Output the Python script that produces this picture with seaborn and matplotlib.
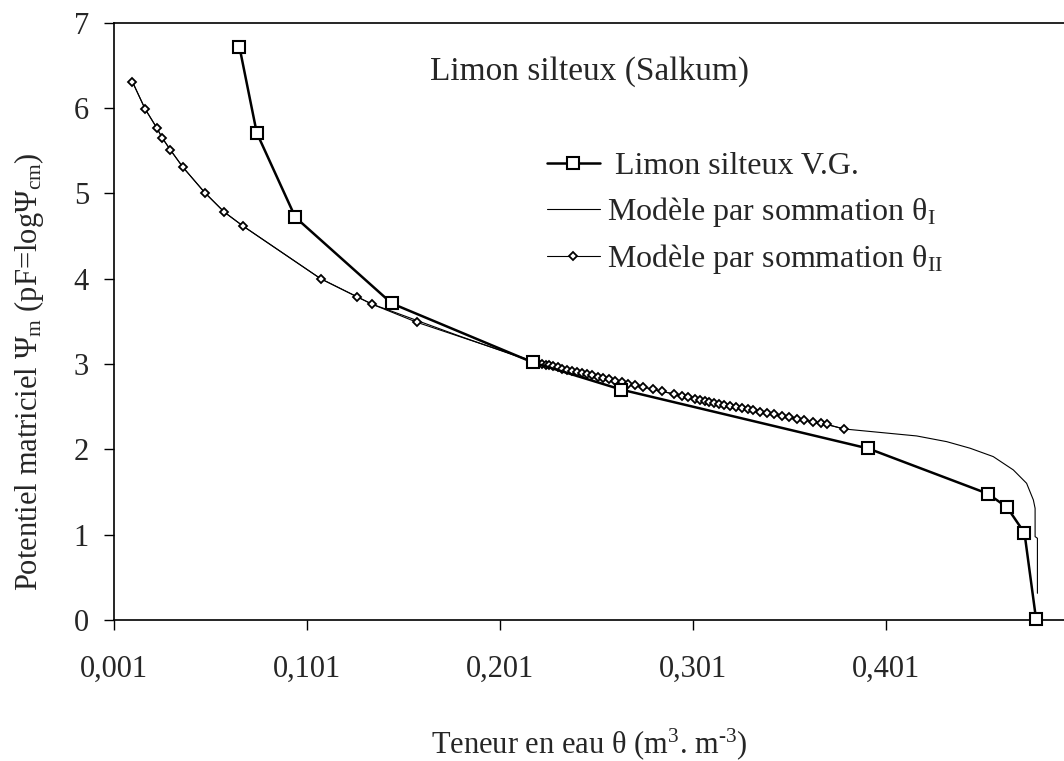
import matplotlib
matplotlib.use("Agg")
import matplotlib.pyplot as plt
import seaborn as sns
import pandas as pd

# ---------------- data ----------------
vg_theta = [0.066, 0.075, 0.095, 0.145, 0.218, 0.264, 0.392, 0.454, 0.464, 0.473, 0.479]
vg_pf = [6.72, 5.71, 4.72, 3.71, 3.02, 2.70, 2.01, 1.48, 1.32, 1.02, 0.01]

t2_theta = [0.0105, 0.0171, 0.0231, 0.0260, 0.0302, 0.0366, 0.0480, 0.0582, 0.0677,
            0.1081, 0.1268, 0.1349, 0.1579,
            0.2210, 0.2230, 0.2248, 0.2265, 0.2287, 0.2310, 0.2334, 0.2357, 0.2383,
            0.2409, 0.2435, 0.2464, 0.2490, 0.2518, 0.2547, 0.2578, 0.2607, 0.2642,
            0.2676, 0.2711, 0.2754, 0.2803, 0.2852, 0.2915, 0.2953, 0.2987, 0.3022,
            0.3048, 0.3074, 0.3096, 0.3120, 0.3148, 0.3174, 0.3203, 0.3233, 0.3264,
            0.3295, 0.3324, 0.3359, 0.3394, 0.3431, 0.3471, 0.3511, 0.3549, 0.3589,
            0.3632, 0.3675, 0.3705, 0.3794]
t2_pf = [6.31, 5.99, 5.77, 5.65, 5.51, 5.31, 5.01, 4.78, 4.62,
         4.00, 3.79, 3.70, 3.49,
         3.013, 3.001, 2.992, 2.984, 2.972, 2.960, 2.947, 2.935, 2.921,
         2.909, 2.896, 2.880, 2.866, 2.852, 2.837, 2.821, 2.805, 2.788,
         2.770, 2.753, 2.730, 2.705, 2.679, 2.647, 2.627, 2.610, 2.592,
         2.580, 2.569, 2.558, 2.548, 2.535, 2.523, 2.510, 2.497, 2.483,
         2.469, 2.456, 2.441, 2.426, 2.409, 2.392, 2.375, 2.359, 2.342,
         2.324, 2.305, 2.292, 2.239]

t1_theta = [0.0105, 0.0171, 0.0231, 0.0260, 0.0302, 0.0366, 0.0480, 0.0582, 0.0677,
            0.1081, 0.1268, 0.1349, 0.1424, 0.1798, 0.2175, 0.2210, 0.2435, 0.2642,
            0.2852, 0.3022, 0.3203, 0.3394, 0.3589, 0.3705, 0.3794, 0.4171, 0.4327,
            0.4448, 0.4568, 0.4672, 0.4741, 0.4776, 0.4785, 0.4785, 0.4797, 0.4797]
t1_pf = [6.31, 5.99, 5.77, 5.65, 5.51, 5.31, 5.01, 4.78, 4.62,
         4.00, 3.79, 3.70, 3.64, 3.33, 3.03, 3.013, 2.896, 2.788,
         2.679, 2.590, 2.510, 2.426, 2.342, 2.292, 2.239, 2.157, 2.090,
         2.013, 1.915, 1.759, 1.602, 1.407, 1.309, 0.977, 0.958, 0.313]

x_ticks = [0.001, 0.101, 0.201, 0.301, 0.401]
x_tick_labels = ["0,001", "0,101", "0,201", "0,301", "0,401"]
y_ticks = [0, 1, 2, 3, 4, 5, 6, 7]

labels = [" Limon silteux V.G.",
          r"Modèle par sommation θ$_\mathrm{I}$",
          r"Modèle par sommation θ$_\mathrm{II}$"]
title = "Limon silteux (Salkum)"
xlabel = r"Teneur en eau θ (m$^\mathrm{3}$. m$^{\text{-}\mathrm{3}}$)"
ylabel = r"Potentiel matriciel Ψ$_\mathrm{m}$ (pF=logΨ$_\mathrm{cm}$)"

# ---------------- style ----------------
sns.set_style("white")
plt.rcParams["font.family"] = ["Liberation Serif", "DejaVu Serif"]
plt.rcParams["mathtext.fontset"] = "custom"
plt.rcParams["mathtext.rm"] = "Liberation Serif"
plt.rcParams["mathtext.it"] = "Liberation Serif:italic"
plt.rcParams["mathtext.bf"] = "Liberation Serif:bold"

W, H = 1064, 761
fig = plt.figure(figsize=(W / 100, H / 100), dpi=100)
ax = fig.add_axes([114 / W, (H - 620) / H, (W - 114) / W, (620 - 22.7) / H])

df_vg = pd.DataFrame({"theta": vg_theta, "pf": vg_pf})
df_t1 = pd.DataFrame({"theta": t1_theta, "pf": t1_pf})
df_t2 = pd.DataFrame({"theta": t2_theta, "pf": t2_pf})

sns.lineplot(data=df_vg, x="theta", y="pf", ax=ax, sort=False, estimator=None,
             color="black", lw=1.8, marker="s", markersize=8.5,
             markerfacecolor="white", markeredgecolor="black", markeredgewidth=1.5,
             label=labels[0], clip_on=False, zorder=4)
sns.lineplot(data=df_t1, x="theta", y="pf", ax=ax, sort=False, estimator=None,
             color="black", lw=0.8, label=labels[1], zorder=2)
sns.lineplot(data=df_t2, x="theta", y="pf", ax=ax, sort=False, estimator=None,
             color="black", lw=0.8, marker="D", markersize=4.5,
             markerfacecolor="white", markeredgecolor="black", markeredgewidth=1.3,
             label=labels[2], zorder=3)

ax.set_xlim(0.001, 0.001 + 950 / 1929)
ax.set_ylim(0, 7)
ax.set_xticks(x_ticks)
ax.set_xticklabels(x_tick_labels)
ax.set_yticks(y_ticks)
ax.tick_params(axis="both", which="major", direction="out", length=7, width=1,
               color="black", labelsize=22, bottom=True, left=True)
ax.tick_params(axis="x", pad=18)
ax.tick_params(axis="y", pad=11)

for s in ["left", "bottom", "top"]:
    ax.spines[s].set_visible(True)
    ax.spines[s].set_color("black")
    ax.spines[s].set_linewidth(1.2)
ax.spines["right"].set_visible(False)

ax.set_xlabel(xlabel, fontsize=22)
ax.set_ylabel(ylabel, fontsize=22)
ax.xaxis.set_label_coords(0.5, (620 - 726) / 597.3)
ax.yaxis.set_label_coords((46 - 114) / 950, (620 - 372) / 597.3)

leg = ax.legend(loc="upper left", bbox_to_anchor=(547 / W, 1 - 152 / H),
                bbox_transform=fig.transFigure, frameon=False, fontsize=23,
                handlelength=1.65, handletextpad=0.22, labelspacing=0.42,
                borderpad=0, borderaxespad=0)

fig.text(590 / W, 1 - 72 / H, title, ha="center", va="center", fontsize=24)

fig.savefig("out.png", dpi=100)
